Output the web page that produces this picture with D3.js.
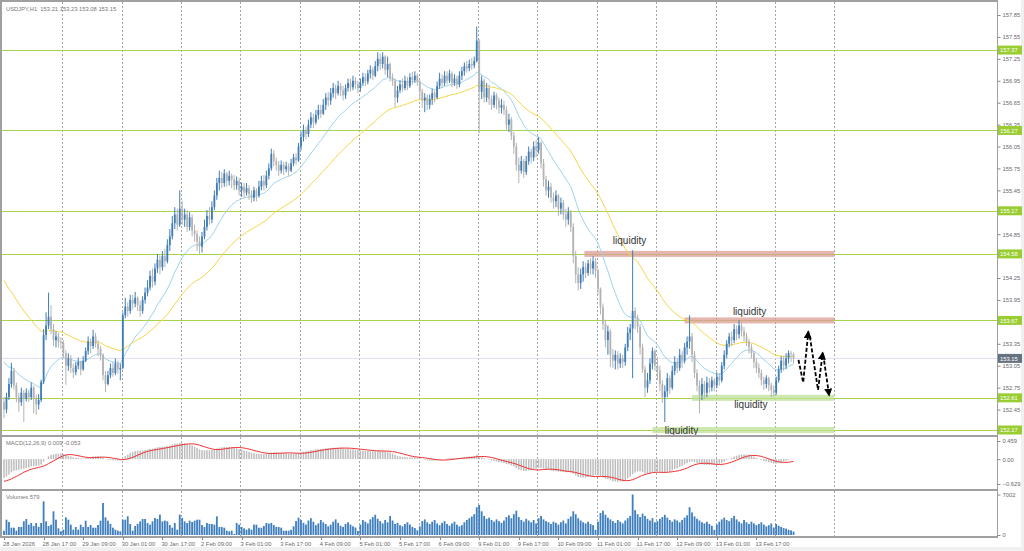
<!DOCTYPE html>
<html><head><meta charset="utf-8">
<script src="https://cdn.jsdelivr.net/npm/d3@7"></script>
<style>
body{margin:0;background:#fff;}
svg{display:block;}
text{font-family:"Liberation Sans",Arial,sans-serif;}
</style>
</head><body>
<svg id="c" width="1024" height="551"></svg>
<script>
// ---------------- DATA ----------------
const symbolTitle = "USDJPY,H1  153.21 153.23 153.08 153.15";
const macdTitle = "MACD(12,26,9) 0.009 -0.053";
const volTitle = "Volumes 579";
const firstOpen = 152.55;
const closes = [
152.45,152.62,152.80,152.98,152.78,152.62,152.55,152.68,152.60,152.68,152.62,152.75,152.60,152.52,152.58,152.83,153.47,153.60,153.72,153.55,153.40,153.45,153.38,153.36,
153.22,153.05,153.15,153.02,152.96,153.05,153.10,153.00,153.12,153.25,153.38,153.32,153.45,153.35,153.28,153.20,152.92,152.80,152.92,153.02,152.95,153.08,153.00,153.02,
153.74,153.86,153.80,153.95,153.90,153.98,153.88,153.80,153.95,154.05,154.12,154.28,154.20,154.38,154.50,154.40,154.55,154.48,154.70,154.82,155.00,155.12,154.98,155.20,
155.05,155.12,154.95,155.08,154.90,154.85,154.75,154.68,154.82,154.95,155.10,155.05,155.22,155.38,155.55,155.62,155.55,155.68,155.58,155.65,155.60,155.52,155.58,155.45,
155.50,155.42,155.48,155.40,155.35,155.45,155.38,155.50,155.58,155.52,155.65,155.75,155.95,155.85,155.80,155.72,155.80,155.74,155.78,155.72,155.82,155.90,155.86,156.05,
156.18,156.28,156.22,156.35,156.45,156.38,156.48,156.55,156.50,156.62,156.72,156.68,156.78,156.85,156.78,156.88,156.82,156.75,156.85,156.92,156.86,156.95,156.90,156.85,
156.92,157.00,156.94,157.05,157.10,157.02,157.15,157.25,157.18,157.28,157.10,157.18,156.98,156.95,156.72,156.82,156.90,156.85,156.95,156.88,157.00,156.96,157.02,156.94,
156.80,156.68,156.72,156.62,156.70,156.78,156.72,156.88,156.98,156.92,157.02,156.95,157.05,156.92,156.98,156.90,157.02,157.08,157.15,157.12,157.18,157.16,157.22,157.50,
156.80,156.95,156.72,156.85,156.70,156.62,156.75,156.68,156.58,156.62,156.55,156.35,156.42,156.20,156.05,155.80,155.72,155.85,155.70,155.85,155.98,155.90,156.05,156.00,
156.10,155.82,155.60,155.45,155.50,155.35,155.30,155.38,155.20,155.28,155.12,155.05,155.15,154.95,154.55,154.30,154.18,154.30,154.40,154.32,154.45,154.38,154.48,154.35,
154.10,153.85,153.62,153.40,153.52,153.20,153.12,153.20,153.08,153.15,153.10,153.30,153.50,153.56,153.80,153.70,153.58,153.30,153.00,152.75,152.85,153.08,153.25,153.05,
152.98,152.80,152.62,152.70,152.88,152.75,152.98,153.10,153.02,153.20,153.12,153.30,153.38,153.45,153.20,152.95,152.78,152.65,152.80,152.68,152.82,152.75,152.85,152.78,
152.90,152.85,153.05,153.20,153.35,153.45,153.40,153.55,153.48,153.60,153.52,153.45,153.38,153.30,153.22,153.10,153.02,152.95,152.85,152.80,152.88,152.78,152.72,152.68,
152.85,153.00,153.12,153.05,153.15,153.22,153.21,153.15];
const highs = [
152.62,152.68,152.88,153.09,153.02,152.82,152.68,152.75,152.72,152.74,152.72,152.82,152.78,152.65,152.66,152.86,153.55,153.78,154.05,153.88,153.62,153.52,153.50,153.44,
153.40,153.26,153.22,153.20,153.08,153.10,153.16,153.12,153.18,153.30,153.45,153.42,153.54,153.50,153.40,153.32,153.22,152.98,152.98,153.08,153.10,153.15,153.12,153.08,
153.78,153.98,153.92,154.02,154.02,154.06,154.00,153.94,154.00,154.12,154.22,154.35,154.38,154.45,154.58,154.56,154.62,154.65,154.78,154.92,155.10,155.22,155.20,155.45,
155.30,155.20,155.18,155.15,155.12,154.98,154.90,154.82,154.88,155.05,155.18,155.22,155.30,155.45,155.62,155.72,155.70,155.74,155.70,155.72,155.68,155.66,155.64,155.62,
155.56,155.55,155.55,155.52,155.45,155.50,155.48,155.58,155.65,155.66,155.72,155.82,156.02,156.00,155.90,155.85,155.86,155.84,155.84,155.82,155.88,155.95,155.96,156.10,
156.25,156.35,156.32,156.42,156.52,156.50,156.55,156.62,156.62,156.70,156.78,156.80,156.85,156.92,156.90,156.95,156.92,156.88,156.90,156.98,156.98,157.02,157.00,156.95,
156.98,157.06,157.05,157.10,157.16,157.14,157.22,157.34,157.32,157.34,157.30,157.28,157.20,157.05,156.98,156.88,156.96,156.98,157.02,157.00,157.05,157.07,157.08,157.05,
156.96,156.84,156.78,156.76,156.76,156.84,156.82,156.94,157.06,157.04,157.08,157.08,157.10,157.08,157.04,157.02,157.08,157.14,157.20,157.22,157.24,157.26,157.28,157.69,
157.52,157.02,156.98,156.92,156.90,156.75,156.80,156.78,156.72,156.70,156.68,156.60,156.50,156.45,156.25,156.10,155.90,155.92,155.88,155.92,156.05,156.02,156.12,156.14,
156.18,156.12,155.88,155.65,155.58,155.55,155.42,155.45,155.40,155.35,155.32,155.20,155.22,155.18,155.00,154.62,154.40,154.38,154.48,154.46,154.50,154.52,154.55,154.52,
154.38,154.12,153.90,153.68,153.60,153.55,153.28,153.26,153.25,153.22,153.20,153.35,153.58,153.62,154.63,153.85,153.75,153.62,153.35,153.05,152.95,153.15,153.30,153.28,
153.17,153.05,152.85,152.78,152.95,152.92,153.05,153.18,153.15,153.28,153.25,153.36,153.45,153.74,153.50,153.25,153.00,152.85,152.88,152.84,152.90,152.88,152.90,152.88,
152.96,152.95,153.10,153.26,153.40,153.50,153.52,153.62,153.60,153.67,153.64,153.58,153.50,153.42,153.35,153.25,153.15,153.08,153.00,152.90,152.92,152.90,152.82,152.78,
152.90,153.05,153.18,153.18,153.22,153.26,153.25,153.23];
const lows = [
152.33,152.40,152.58,152.75,152.72,152.55,152.42,152.50,152.28,152.56,152.55,152.58,152.40,152.38,152.45,152.55,152.80,153.40,153.55,153.48,153.32,153.30,153.30,153.28,
153.15,152.79,152.98,152.95,152.88,152.92,153.00,152.92,152.98,153.10,153.20,153.22,153.28,153.30,153.18,153.12,152.85,152.69,152.78,152.88,152.90,152.92,152.94,152.85,
153.00,153.70,153.72,153.76,153.82,153.85,153.80,153.72,153.76,153.90,154.00,154.08,154.12,154.15,154.32,154.30,154.35,154.40,154.45,154.62,154.78,154.92,154.90,154.95,
154.98,154.95,154.88,154.90,154.82,154.75,154.62,154.58,154.60,154.78,154.90,154.98,155.00,155.18,155.32,155.45,155.48,155.50,155.50,155.52,155.48,155.45,155.46,155.38,
155.36,155.35,155.38,155.32,155.28,155.30,155.30,155.35,155.45,155.45,155.48,155.60,155.72,155.78,155.72,155.65,155.68,155.66,155.70,155.65,155.70,155.78,155.80,155.84,
156.00,156.12,156.15,156.18,156.30,156.30,156.35,156.42,156.44,156.48,156.55,156.60,156.62,156.72,156.70,156.75,156.74,156.68,156.70,156.80,156.80,156.82,156.84,156.78,
156.80,156.88,156.88,156.90,156.98,156.96,157.00,157.08,157.10,157.12,157.03,157.00,156.94,156.88,156.59,156.65,156.78,156.80,156.82,156.82,156.85,156.90,156.92,156.88,
156.70,156.58,156.52,156.55,156.56,156.62,156.65,156.70,156.84,156.86,156.88,156.90,156.92,156.86,156.88,156.84,156.86,156.96,157.02,157.06,157.08,157.10,157.12,157.20,
156.23,156.70,156.65,156.66,156.62,156.55,156.58,156.56,156.50,156.50,156.48,156.28,156.25,156.14,155.95,155.72,155.55,155.68,155.62,155.66,155.80,155.82,155.85,155.90,
155.95,155.75,155.50,155.38,155.35,155.28,155.20,155.22,155.10,155.12,155.05,154.95,154.98,154.88,154.45,154.18,154.08,154.10,154.20,154.25,154.28,154.30,154.30,154.25,
154.02,153.75,153.54,153.30,153.20,153.03,153.02,153.00,153.00,153.02,153.02,153.05,153.25,153.40,152.88,153.55,153.50,153.20,152.95,152.62,152.68,152.80,153.00,152.98,
152.85,152.70,152.54,152.28,152.62,152.66,152.72,152.92,152.95,152.98,153.02,153.08,153.20,153.28,153.10,152.88,152.70,152.40,152.58,152.60,152.62,152.68,152.70,152.70,
152.74,152.78,152.82,153.00,153.15,153.30,153.32,153.36,153.40,153.42,153.45,153.38,153.32,153.22,153.15,153.02,152.95,152.88,152.78,152.72,152.74,152.70,152.62,152.63,
152.65,152.82,152.95,152.98,153.00,153.08,153.10,153.08];
const volumes = [
744,2652,2249,1263,1263,744,1384,1384,2364,2768,1788,2076,1557,2076,1384,2076,5824,2364,1557,1788,4094,2652,1150,634,
917,3057,2652,1788,917,1384,917,1788,1384,2480,1384,1730,1263,1263,1730,2480,5536,3057,2480,1903,1263,917,744,634,
2652,2652,3230,1903,744,1557,1903,2364,2768,2768,2076,1788,2364,2941,2768,3518,2364,2480,2364,1730,1263,2076,917,3518,
2941,2364,2076,2480,2249,2480,2652,2652,1730,1384,2076,1903,1903,1788,3230,1384,1384,1263,744,634,744,173,2076,1788,
1384,1150,917,1150,917,1788,1788,1263,1263,1557,2076,1960,2076,1730,1384,1384,1263,744,744,744,900,1500,2400,3000,
2600,2100,1800,2500,2900,2300,1700,2000,2600,2200,1900,1500,1800,2300,2700,2100,1600,1400,1900,2200,1800,1500,1300,700,
1800,2600,2300,2000,2700,3100,3500,2800,2400,2000,2600,2200,3300,2500,1900,2100,1700,1500,1900,2200,1800,1400,1200,800,
1500,2400,2700,2200,1900,2300,2600,2000,1700,2100,2400,1900,1600,2000,2300,1800,1500,1700,2200,2600,2900,3200,3600,4800,
5200,4100,3300,2800,3000,2600,2300,2700,2400,2100,2500,3100,3400,2900,3600,4200,3100,2600,2300,2800,2500,2200,2600,2000,
2900,3300,2700,2400,2200,1900,2300,2100,1800,2200,2500,2000,2800,3200,4100,3600,2900,2500,2200,2000,2300,1900,1700,900,
2300,3800,4200,3500,3000,2700,2400,2100,2600,2300,2000,2500,2900,3300,7002,4300,3600,3100,3700,3300,2800,2500,2900,2200,
2400,2800,3100,3500,3000,2600,2300,2700,2500,2200,2600,3000,3400,4800,3900,3200,2800,2500,2200,2000,2300,1900,1600,900,
1800,2300,2700,3000,2600,2400,2900,3300,2700,2300,2000,2600,2200,1900,2300,2000,1700,1900,2200,1800,1500,1700,2000,1300,
1900,1600,1400,1200,1100,900,800,579];
// indicator starting states
const maFastStart = 153.17, maSlowStart = 154.29;
const ema12Start = 152.62, ema26Start = 153.12, signalStart = -0.57;
// time axis
const timeLabels = ["28 Jan 2026","28 Jan 17:00","29 Jan 09:00","30 Jan 01:00","30 Jan 17:00","2 Feb 09:00","3 Feb 01:00","3 Feb 17:00","4 Feb 09:00","5 Feb 01:00","5 Feb 17:00","6 Feb 09:00","9 Feb 01:00","9 Feb 17:00","10 Feb 09:00","11 Feb 01:00","11 Feb 17:00","12 Feb 09:00","13 Feb 01:00","13 Feb 17:00"];
const barsPerLabel = 16;
const daySeparators = [23.5,47.5,71.5,95.5,119.5,143.5,167.5,191.5,215.5,239.5,263.5,287.5,311.5,335.5];
// price axis (ticks hidden under level tags are left out)
const priceTicks = [157.85,157.55,157.25,156.95,156.65,156.35,156.05,155.75,155.45,154.85,154.25,153.95,153.35,153.05,152.75,152.45];
const levels = [157.37,156.27,155.17,154.58,153.67,152.61,152.17];
const lastPrice = 153.15;
// liquidity zones
const zoneLevel = [154.58,153.67,152.61,152.17];
const zoneFrom = [234.5,275,278,262];
const zoneTo = [335.5,335.5,335.5,335.5];
const zoneKind = ["sell","sell","buy","buy"];
const liqLabelBar = [246,294.5,295,267];
const liqLabelPrice = [154.71,153.75,152.47,152.11];
// forecast zig-zag: three arrows [bar, price]
const arrowA = [[321.0,153.13],[322.9,152.82],[325.0,153.52]];
const arrowB = [[325.6,153.45],[328.9,152.72],[330.8,153.23]];
const arrowC = [[331.0,153.20],[333.4,152.64]];
const macdTicks = [0.459,0,-0.629];
const volTicks = [7002,0];

// ---------------- DRAW ----------------
const svg = d3.select("#c");
const N = closes.length;
const opens = closes.map((c,i)=> i===0 ? firstOpen : closes[i-1]);
const step = 2.475;
const x = d3.scaleLinear().domain([0,1]).range([4,4+step]);
const y = d3.scaleLinear().domain([152.17,157.85]).range([430,15]);
const ym = d3.scaleLinear().domain([-0.629,0.459]).range([484,441]);
const yv = d3.scaleLinear().domain([0,7002]).range([535,494.5]);

const P = {l:2, r:997, mainT:2, mainB:435, macdT:437, macdB:489, volT:491, volB:536};
const defs = svg.append("defs");
[["cMain",P.mainT,P.mainB],["cMacd",P.macdT,P.macdB],["cVol",P.volT,P.volB]].forEach(([id,t,b])=>{
  defs.append("clipPath").attr("id",id).append("rect").attr("x",P.l).attr("y",t).attr("width",P.r-P.l).attr("height",b-t);
});
defs.append("marker").attr("id","ah").attr("markerUnits","userSpaceOnUse")
  .attr("markerWidth",10).attr("markerHeight",10).attr("refX",7).attr("refY",4)
  .attr("orient","auto").append("path").attr("d","M0,0 L8,4 L0,8 Z").attr("fill","#000");

// background
svg.append("rect").attr("width",1024).attr("height",551).attr("fill","#fff");
svg.append("rect").attr("x",0).attr("y",547).attr("width",1024).attr("height",4).attr("fill","#f0f0f0");
svg.append("rect").attr("x",1021).attr("y",0).attr("width",3).attr("height",551).attr("fill","#f0f0f0");

const gMain = svg.append("g").attr("clip-path","url(#cMain)");
const gMacd = svg.append("g").attr("clip-path","url(#cMacd)");
const gVol = svg.append("g").attr("clip-path","url(#cVol)");

// day separators (dashed), through all panels
[[gMain,P.mainT,P.mainB],[gMacd,P.macdT,P.macdB],[gVol,P.volT,P.volB]].forEach(([g,t,b])=>{
  g.selectAll(null).data(daySeparators).join("line")
    .attr("x1",d=>Math.round(x(d))+0.5).attr("x2",d=>Math.round(x(d))+0.5)
    .attr("y1",t).attr("y2",b).attr("stroke","#a5a5a5").attr("stroke-width",1).attr("stroke-dasharray","2,2");
});

// last price line
gMain.append("line").attr("x1",P.l).attr("x2",P.r).attr("y1",y(lastPrice)).attr("y2",y(lastPrice))
  .attr("stroke","#dcdcf4").attr("stroke-width",1);

// level lines
gMain.selectAll(null).data(levels).join("line")
  .attr("x1",P.l).attr("x2",P.r).attr("y1",d=>Math.round(y(d))+0.5).attr("y2",d=>Math.round(y(d))+0.5)
  .attr("stroke","#a8d44a").attr("stroke-width",1.2);

// liquidity zones
gMain.selectAll(null).data(zoneLevel).join("rect")
  .attr("x",(d,i)=>x(zoneFrom[i])).attr("width",(d,i)=>x(zoneTo[i])-x(zoneFrom[i]))
  .attr("y",d=>y(d)-3).attr("height",6)
  .attr("fill",(d,i)=> zoneKind[i]==="sell" ? "#dc9d96" : "#bfe096")
  .attr("opacity",0.75);

// moving averages (exponential, from closes)
function ema(src, period, start){ const a=2/(period+1); const out=[]; let v=start; src.forEach((c)=>{ v = v + a*(c-v); out.push(v); }); return out; }
const maFast = ema(closes,20,maFastStart);
const maSlow = ema(closes,50,maSlowStart);
const line = d3.line().x((d,i)=>x(i)).y(d=>y(d));
gMain.append("path").attr("d",line(maSlow)).attr("fill","none").attr("stroke","#f7d646").attr("stroke-width",1);
gMain.append("path").attr("d",line(maFast)).attr("fill","none").attr("stroke","#9ed3ee").attr("stroke-width",1);

// candles
const idx = d3.range(N);
const bull = i => closes[i] > opens[i] + 0.004;
const bear = i => closes[i] < opens[i] - 0.004;
const col = i => bull(i) ? "#3f7db8" : (bear(i) ? "#b3b3b3" : "#222");
gMain.selectAll(null).data(idx).join("line")
  .attr("x1",i=>x(i)).attr("x2",i=>x(i))
  .attr("y1",i=>y(Math.max(highs[i],opens[i],closes[i]))).attr("y2",i=>y(Math.min(lows[i],opens[i],closes[i])))
  .attr("stroke",i=>col(i)).attr("stroke-width",1);
gMain.selectAll(null).data(idx).join("rect")
  .attr("x",i=>x(i)-0.9).attr("width",1.8)
  .attr("y",i=>y(Math.max(opens[i],closes[i])))
  .attr("height",i=>Math.max(0.8, Math.abs(y(opens[i])-y(closes[i]))))
  .attr("fill",i=>col(i));

// liquidity labels
gMain.selectAll(null).data(liqLabelBar).join("text")
  .attr("x",d=>x(d)).attr("y",(d,i)=>y(liqLabelPrice[i]))
  .attr("font-size",10).attr("fill","#333").text("liquidity");

// forecast arrows
const aline = d3.line().x(d=>x(d[0])).y(d=>y(d[1]));
[arrowA,arrowB,arrowC].forEach(a=>{
  gMain.append("path").attr("d",aline(a)).attr("fill","none").attr("stroke","#000")
    .attr("stroke-width",1.8).attr("stroke-dasharray","4,2").attr("marker-end","url(#ah)");
});

// MACD (12,26,9) : main = EMA12-EMA26, signal = SMA9 of main
const e12 = ema(closes,12,ema12Start), e26 = ema(closes,26,ema26Start);
const macd = e12.map((v,i)=>v-e26[i]);
const signal = macd.map((v,i)=>{ let s=0; for(let k=i-8;k<=i;k++){ s += k>=0 ? macd[k] : signalStart; } return s/9; });
gMacd.selectAll(null).data(idx).join("rect")
  .attr("x",i=>x(i)-0.75).attr("width",1.5)
  .attr("y",i=>Math.min(ym(0),ym(macd[i]))).attr("height",i=>Math.abs(ym(macd[i])-ym(0)))
  .attr("fill","#bdbdbd");
gMacd.append("path").attr("d",d3.line().x((d,i)=>x(i)).y(d=>ym(d))(signal))
  .attr("fill","none").attr("stroke","#f03030").attr("stroke-width",1);

// volumes
gVol.selectAll(null).data(idx).join("rect")
  .attr("x",i=>x(i)-0.9).attr("width",1.8)
  .attr("y",i=>yv(volumes[i])).attr("height",i=>yv(0)-yv(volumes[i]))
  .attr("fill","#3f7fbf");

// frames
const frame = svg.append("g").attr("stroke","#a0a0a0").attr("fill","none");
frame.append("line").attr("x1",1).attr("x2",1).attr("y1",1).attr("y2",537).attr("stroke-width",2);
frame.append("line").attr("x1",P.r+0.5).attr("x2",P.r+0.5).attr("y1",1).attr("y2",537).attr("stroke-width",1);
[1,436,490,537].forEach(v=> frame.append("line").attr("x1",0).attr("x2",P.r+1).attr("y1",v).attr("y2",v).attr("stroke-width",2));

// axes
const axTxt = "#6a6a6a";
function rightAxis(scale, ticks, fmt){
  const g = svg.append("g").attr("transform",`translate(${P.r+0.5},0)`)
    .call(d3.axisRight(scale).tickValues(ticks).tickSize(3).tickPadding(2).tickFormat(fmt));
  g.select(".domain").remove();
  g.selectAll("line").attr("stroke","#888");
  g.selectAll("text").attr("font-size",5.8).attr("fill",axTxt).attr("font-family","Liberation Sans, Arial, sans-serif");
  return g;
}
rightAxis(y, priceTicks, d3.format(".2f"));
rightAxis(ym, macdTicks, d=> d===0 ? "0.00" : d3.format(".3f")(d));
rightAxis(yv, volTicks, d3.format("d"));

// level tags
const tags = svg.append("g");
levels.forEach(v=>{
  tags.append("rect").attr("x",P.r+1).attr("y",y(v)-4.5).attr("width",24).attr("height",9).attr("fill","#9acd32");
  tags.append("text").attr("x",P.r+3).attr("y",y(v)+2.2).attr("font-size",5.8).attr("fill","#fff").text(v.toFixed(2));
});
tags.append("rect").attr("x",P.r+1).attr("y",y(lastPrice)-4.5).attr("width",24).attr("height",9).attr("fill","#66727f");
tags.append("text").attr("x",P.r+3).attr("y",y(lastPrice)+2.2).attr("font-size",5.8).attr("fill","#fff").text(lastPrice.toFixed(2));

// time axis
const tIdx = timeLabels.map((t,i)=>i*barsPerLabel);
svg.selectAll(null).data(tIdx).join("line")
  .attr("x1",d=>Math.round(x(d))+0.5).attr("x2",d=>Math.round(x(d))+0.5).attr("y1",537).attr("y2",540)
  .attr("stroke","#888");
svg.selectAll(null).data(tIdx).join("text")
  .attr("x",d=>x(d)-1).attr("y",545.5).attr("font-size",5.8).attr("fill",axTxt)
  .text((d,i)=>timeLabels[i]);

// titles
svg.append("text").attr("x",6).attr("y",11).attr("font-size",5.8).attr("fill","#777").attr("xml:space","preserve").text(symbolTitle);
svg.append("text").attr("x",6).attr("y",444.5).attr("font-size",5.8).attr("fill","#777").text(macdTitle);
svg.append("text").attr("x",6).attr("y",498.5).attr("font-size",5.8).attr("fill","#777").text(volTitle);
</script>
</body></html>
